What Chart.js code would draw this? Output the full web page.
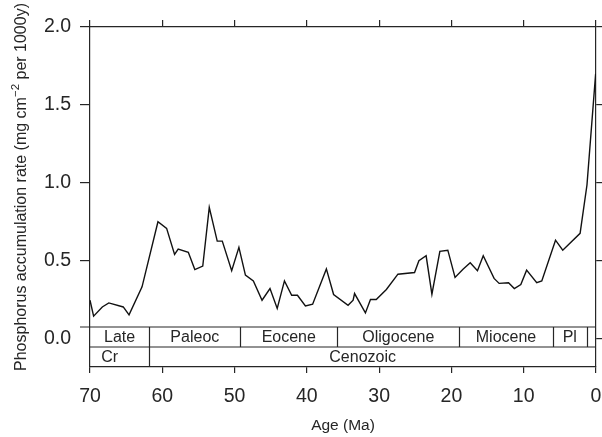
<!DOCTYPE html>
<html>
<head>
<meta charset="utf-8">
<script src="https://cdn.jsdelivr.net/npm/chart.js@4.4.1/dist/chart.umd.min.js"></script>
<style>
  body { margin: 0; background: #fff; }
  #wrap { width: 602px; height: 437px; position: relative; }
</style>
</head>
<body>
<div id="wrap"><canvas id="myChart"></canvas></div>
<script>
// age (Ma) and P accumulation rate
const ages = [70.0, 69.5, 68.3, 67.4, 65.4, 64.6, 62.8, 60.6, 59.4, 58.3, 57.8, 56.4, 55.5, 54.4,
  53.5, 52.4, 51.7, 50.4, 49.4, 48.5, 47.4, 46.2, 45.1, 44.1, 43.1, 42.1, 41.3, 40.2, 39.2, 37.3,
  36.3, 34.3, 33.6, 33.4, 31.9, 31.2, 30.4, 29.0, 27.4, 25.1, 24.5, 23.5, 22.7, 21.6, 20.5, 19.5,
  18.4, 17.4, 16.4, 15.6, 14.1, 13.4, 12.1, 11.3, 10.4, 9.6, 8.2, 7.5, 5.6, 4.6, 2.2, 1.25, 0.05];
const rates = [0.248, 0.146, 0.205, 0.231, 0.205, 0.154, 0.334, 0.751, 0.709, 0.542, 0.576, 0.555,
  0.445, 0.467, 0.843, 0.627, 0.627, 0.437, 0.587, 0.409, 0.372, 0.248, 0.323, 0.195, 0.372, 0.280,
  0.280, 0.212, 0.223, 0.449, 0.285, 0.216, 0.248, 0.291, 0.167, 0.253, 0.253, 0.317, 0.415, 0.426,
  0.501, 0.533, 0.287, 0.561, 0.569, 0.394, 0.447, 0.488, 0.437, 0.533, 0.388, 0.356, 0.360, 0.323,
  0.349, 0.441, 0.360, 0.372, 0.633, 0.569, 0.677, 0.987, 1.70];

const yTicks = [0, 0.5, 1.0, 1.5, 2.0];
const xTicks = [70, 60, 50, 40, 30, 20, 10, 0];

// geologic timescale strip
const epochNames = ['Late', 'Paleoc', 'Eocene', 'Oligocene', 'Miocene', 'Pl', ''];
const epochBounds = [70, 61.8, 49.2, 35.8, 18.9, 6.0, 1.25, 0];
const eraNames = ['Cr', 'Cenozoic'];
const eraBounds = [70, 61.8, 0];

const ink = '#262626';
const FONT = '"Liberation Sans", Arial, Helvetica, sans-serif';

const timescale = {
  id: 'timescale',
  afterDatasetsDraw(chart) {
    const ctx = chart.ctx;
    const a = chart.chartArea;
    const x = chart.scales.x;
    const rowH = 20;
    const top = a.bottom - 2 * rowH;
    const mid = a.bottom - rowH;
    ctx.save();
    ctx.strokeStyle = ink;
    ctx.lineWidth = 1.2;
    ctx.beginPath();
    ctx.moveTo(a.left - 10, top); ctx.lineTo(a.right, top);
    ctx.moveTo(a.left, mid); ctx.lineTo(a.right, mid);
    for (let i = 1; i < epochBounds.length - 1; i++) {
      const px = Math.round(x.getPixelForValue(epochBounds[i])) + 0.5;
      ctx.moveTo(px, top); ctx.lineTo(px, mid);
    }
    for (let i = 1; i < eraBounds.length - 1; i++) {
      const px = Math.round(x.getPixelForValue(eraBounds[i])) + 0.5;
      ctx.moveTo(px, mid); ctx.lineTo(px, a.bottom);
    }
    ctx.stroke();

    ctx.fillStyle = ink;
    ctx.font = '16px ' + FONT;
    ctx.textAlign = 'center';
    ctx.textBaseline = 'middle';
    epochNames.forEach((name, i) => {
      const cx = (x.getPixelForValue(epochBounds[i]) + x.getPixelForValue(epochBounds[i + 1])) / 2;
      ctx.fillText(name, cx, top + rowH / 2 + 1);
    });
    eraNames.forEach((name, i) => {
      const cx = (x.getPixelForValue(eraBounds[i]) + x.getPixelForValue(eraBounds[i + 1])) / 2 - 10;
      ctx.fillText(name, cx, mid + rowH / 2 + 1);
    });
    ctx.restore();
  }
};

// rotated y title with the superscript exponent
const yTitle = {
  id: 'yTitle',
  afterDraw(chart) {
    const ctx = chart.ctx;
    const parts = [
      { t: 'Phosphorus accumulation rate (mg cm', size: 16, rise: 0 },
      { t: '\u22122', size: 11.5, rise: 7 },
      { t: ' per 1000y)', size: 16, rise: 0 }
    ];
    ctx.save();
    ctx.fillStyle = ink;
    ctx.textBaseline = 'alphabetic';
    ctx.textAlign = 'left';
    let total = 0;
    parts.forEach(p => { ctx.font = p.size + 'px ' + FONT; p.w = ctx.measureText(p.t).width; total += p.w; });
    ctx.translate(26, 187);
    ctx.rotate(-Math.PI / 2);
    let cx = -total / 2;
    parts.forEach(p => {
      ctx.font = p.size + 'px ' + FONT;
      ctx.fillText(p.t, cx, -p.rise);
      cx += p.w;
    });
    ctx.restore();
  }
};

const setTicks = vals => axis => { axis.ticks = vals.map(v => ({ value: v })); };

// fixed axis box size, no extra room reserved for overhanging labels
const fixSize = (w, h) => axis => {
  if (w !== null) axis.width = w;
  if (h !== null) axis.height = h;
  axis.paddingLeft = axis.paddingRight = axis.paddingTop = axis.paddingBottom = 0;
};

const data = {
  datasets: [{
    data: ages.map((a, i) => ({ x: a, y: rates[i] })),
    borderColor: '#111',
    borderWidth: 1.4,
    pointRadius: 0,
    tension: 0,
    fill: false
  }]
};

const config = {
  type: 'line',
  data: data,
  options: {
    responsive: true,
    maintainAspectRatio: false,
    animation: false,
    layout: { padding: 0 },
    plugins: { legend: { display: false }, tooltip: { enabled: false } },
    scales: {
      x: {
        type: 'linear', position: 'bottom', reverse: true, min: 0, max: 70,
        afterBuildTicks: setTicks(xTicks),
        afterFit: fixSize(null, 70),
        border: { color: ink, width: 1.2 },
        grid: { drawOnChartArea: false, tickLength: 6, color: ink, lineWidth: 1.2 },
        ticks: { autoSkip: false, maxRotation: 0, padding: 12, color: ink, font: { family: FONT, size: 19.5 } },
        title: { display: true, text: 'Age (Ma)', color: ink, padding: { top: 0, bottom: 2 }, font: { family: FONT, size: 15.5 } }
      },
      x2: {
        type: 'linear', position: 'top', reverse: true, min: 0, max: 70,
        afterBuildTicks: setTicks(xTicks),
        afterFit: fixSize(null, 27),
        border: { color: ink, width: 1.2 },
        grid: { drawOnChartArea: false, tickLength: 7, color: ink, lineWidth: 1.2 },
        ticks: { display: false }
      },
      y: {
        type: 'linear', position: 'left', min: -0.18, max: 2.0,
        afterBuildTicks: setTicks(yTicks),
        afterFit: fixSize(90, null),
        border: { color: ink, width: 1.2 },
        grid: {
          drawOnChartArea: false, tickLength: 10, lineWidth: 1.2,
          color: c => (c.tick && c.tick.value === 0 ? 'rgba(0,0,0,0)' : ink)
        },
        ticks: {
          padding: 9, color: ink, font: { family: FONT, size: 19.5 },
          callback: v => v.toFixed(1)
        }
      },
      y2: {
        type: 'linear', position: 'right', min: -0.18, max: 2.0,
        afterBuildTicks: setTicks(yTicks),
        afterFit: fixSize(6, null),
        border: { color: ink, width: 1.2 },
        grid: { drawOnChartArea: false, tickLength: 6, color: ink, lineWidth: 1.2 },
        ticks: { display: false }
      }
    }
  },
  plugins: [timescale, yTitle]
};

const myChart = new Chart(document.getElementById('myChart'), config);
</script>
</body>
</html>
